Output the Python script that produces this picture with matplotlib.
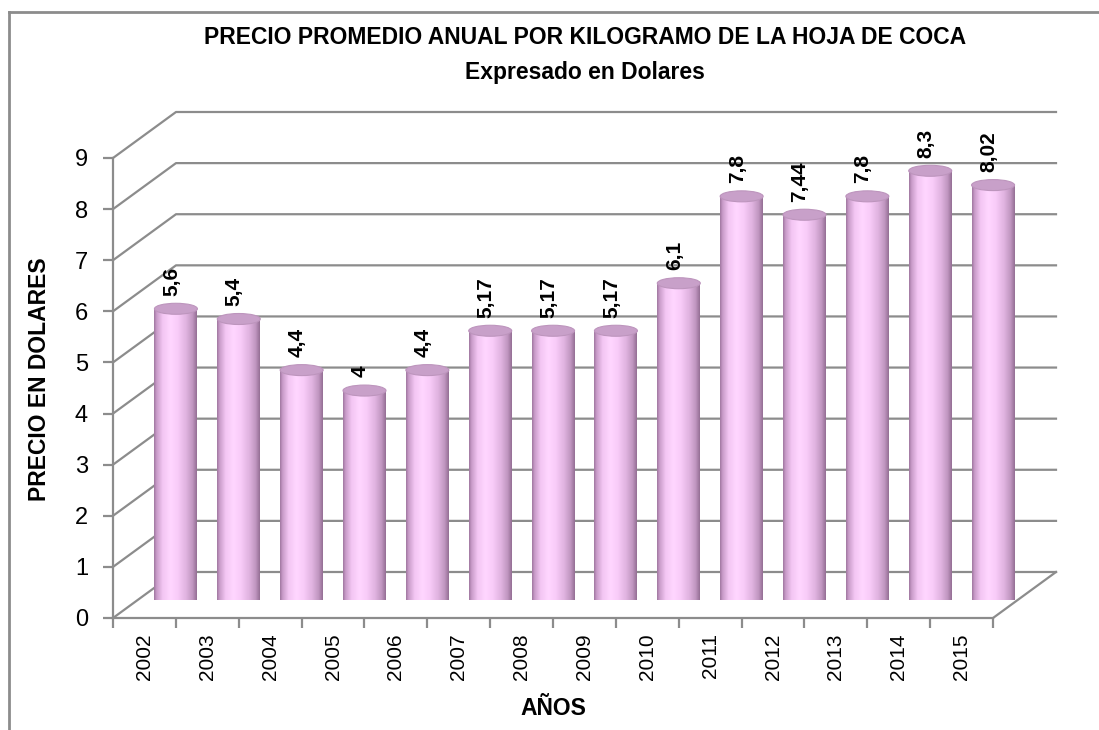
import numpy as np
import matplotlib.pyplot as plt
from matplotlib.patches import Ellipse, PathPatch
from matplotlib.path import Path
from matplotlib.colors import LinearSegmentedColormap
from matplotlib.lines import Line2D

# datos
anios = ['2002', '2003', '2004', '2005', '2006', '2007', '2008',
         '2009', '2010', '2011', '2012', '2013', '2014', '2015']
precio = [5.6, 5.4, 4.4, 4.0, 4.4, 5.17, 5.17, 5.17, 6.1, 7.8, 7.44, 7.8, 8.3, 8.02]
etiquetas = ['5,6', '5,4', '4,4', '4', '4,4', '5,17', '5,17', '5,17', '6,1',
             '7,8', '7,44', '7,8', '8,3', '8,02']
yticks = list(range(0, 10))

plt.rcParams['font.family'] = ['Liberation Sans', 'DejaVu Sans']

fig = plt.figure(figsize=(10.99, 7.30), dpi=100)
W, H = 1099, 730
# plano frontal del grafico 3D (en pixeles)
x0, x1 = 113, 993
yb, yt = 618, 158
ax = fig.add_axes([x0 / W, 1 - yb / H, (x1 - x0) / W, (yb - yt) / H])
n = len(anios)
ax.set_xlim(0, n)
ax.set_ylim(0, 9)

# profundidad (en unidades de datos)
dx = 63 / ((x1 - x0) / n)
dy = 46 / ((yb - yt) / 9)

gris = '#8c8c8c'
# lineas de cuadricula 3D
for v in yticks:
    ax.plot([0, dx, n + dx], [v, v + dy, v + dy], color=gris, lw=1.6,
            clip_on=False, zorder=1)
ax.plot([n, n + dx], [0, dy], color=gris, lw=1.6, clip_on=False, zorder=1)

# cilindros
cmap = LinearSegmentedColormap.from_list('rosa', [
    (0.0, '#9f779f'), (0.06, '#c99bc9'), (0.2, '#f3c6f3'), (0.38, '#ffd6ff'),
    (0.55, '#f9ccf9'), (0.75, '#e0b3e0'), (0.9, '#c096c0'), (1.0, '#946e94')])
grad = np.linspace(0, 1, 256).reshape(1, -1)
w = 0.342
h = 5.5 / ((yb - yt) / 9)
base = dy / 2
for i, (val, lab) in enumerate(zip(precio, etiquetas)):
    cx = i + 0.5 + dx / 2
    top = base + val
    t = np.linspace(np.pi, 2 * np.pi, 40)
    xs = list(cx + w * np.cos(t)) + [cx + w, cx - w]
    ys = list(base + h * np.sin(t)) + [top, top]
    path = Path(np.column_stack([xs, ys]), closed=False)
    body = PathPatch(path, facecolor='none', edgecolor='none', clip_on=False)
    ax.add_patch(body)
    im = ax.imshow(grad, cmap=cmap, aspect='auto', extent=[cx - w, cx + w, base - h, top],
                   zorder=3, clip_on=False)
    im.set_clip_path(body)
    ax.add_patch(Ellipse((cx, top), 2 * w, 2 * h, facecolor='#c8a0c9',
                         edgecolor='#bd95bd', lw=0.8, zorder=4, clip_on=False))
    ax.text(cx - 0.07, top + h + 0.15, lab, rotation=90, ha='center', va='bottom',
            fontsize=15, fontweight='bold', zorder=5)

# ejes
for s in ['top', 'right']:
    ax.spines[s].set_visible(False)
for s in ['left', 'bottom']:
    ax.spines[s].set_color(gris)
    ax.spines[s].set_linewidth(1.6)
ax.set_yticks(yticks)
ax.set_yticklabels([str(v) for v in yticks], fontsize=17)
ax.set_xticks(np.arange(0, n + 1))
ax.set_xticklabels([])
ax.set_xticks(np.arange(n) + 0.5, minor=True)
ax.set_xticklabels(anios, minor=True, rotation=90, fontsize=15)
ax.tick_params(axis='y', length=7, width=1.6, color=gris, pad=11)
ax.tick_params(axis='x', which='major', length=7, width=1.6, color=gris)
ax.tick_params(axis='x', which='minor', length=0, pad=11)
ax.patch.set_visible(False)

ax.set_ylabel('PRECIO EN DOLARES', fontsize=16.5, fontweight='bold')
ax.yaxis.set_label_coords(-0.07, 0.52)
ax.set_xlabel('AÑOS', fontsize=16.5, fontweight='bold', labelpad=12)

fig.text(585 / W, 1 - 37 / H, 'PRECIO PROMEDIO ANUAL POR KILOGRAMO DE LA HOJA DE COCA',
         ha='center', va='center', fontsize=16.5, fontweight='bold')
fig.text(585 / W, 1 - 72 / H, 'Expresado en Dolares', ha='center', va='center',
         fontsize=16.5, fontweight='bold')

# borde exterior
fig.add_artist(Line2D([9 / W, 9 / W], [0, 1 - 12 / H], color='#8c8c8c', lw=2,
                      transform=fig.transFigure))
fig.add_artist(Line2D([9 / W, 1], [1 - 12 / H, 1 - 12 / H], color='#8c8c8c', lw=2,
                      transform=fig.transFigure))

fig.savefig('out.png', dpi=100)
